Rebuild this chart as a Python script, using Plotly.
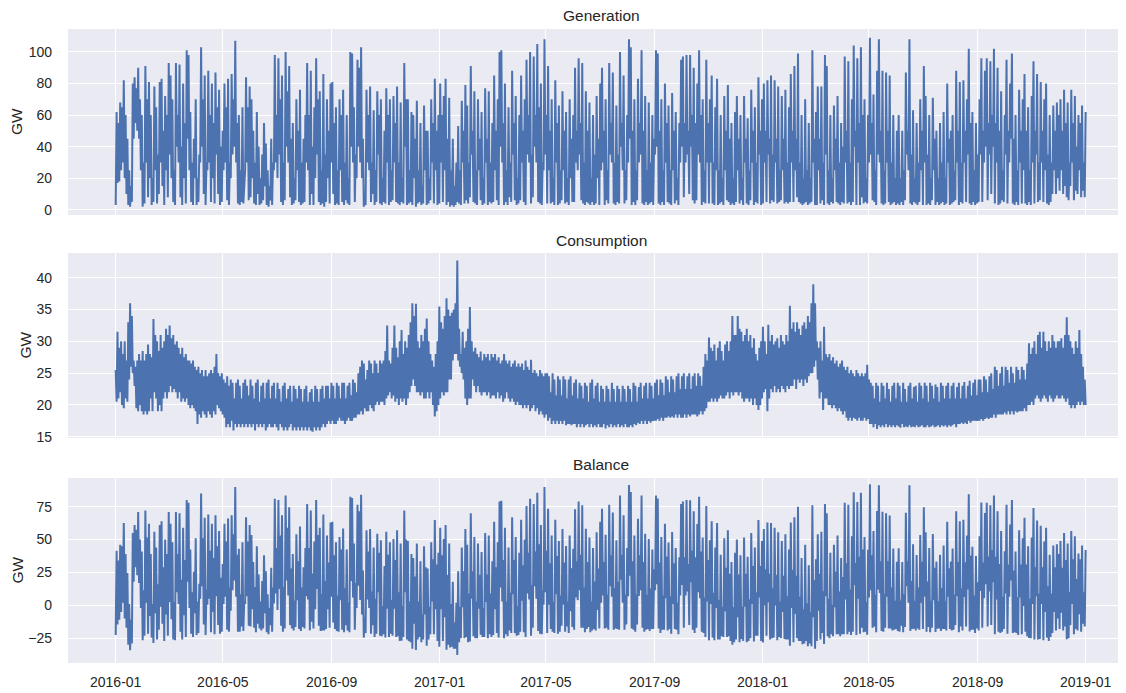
import numpy as np
import pandas as pd
import plotly.graph_objects as go

# ---------------- data (GW): ~daily readings, 30 per month ----------------
start_date = "2016-01-01 00:00"
end_date = "2018-12-31 23:00"

generation = [
    3, 62, 17, 55, 18, 68, 25, 65, 30, 82, 20, 60, 10, 45, 3, 25, 2, 15, 5, 80, 45, 84, 55, 77, 50, 90, 45, 70, 25, 60,        # 2016-01
    2, 30, 4, 91, 30, 70, 8, 81, 20, 60, 3, 20, 5, 78, 25, 65, 4, 35, 10, 81, 30, 83, 15, 50, 3, 72, 25, 60, 8, 93,            # 2016-02
    35, 85, 20, 70, 5, 25, 3, 93, 40, 60, 30, 92, 8, 40, 3, 80, 20, 55, 4, 101, 45, 98, 25, 62, 5, 30, 3, 45, 20, 70,          # 2016-03
    3, 20, 5, 35, 30, 103, 40, 70, 10, 85, 3, 30, 25, 88, 30, 60, 5, 80, 20, 55, 4, 87, 35, 65, 10, 76, 3, 40, 5, 50,          # 2016-04
    25, 80, 30, 65, 6, 83, 3, 30, 20, 86, 35, 70, 40, 107, 30, 55, 4, 60, 3, 25, 5, 65, 4, 20, 25, 84, 30, 65, 6, 78,          # 2016-05
    8, 70, 20, 50, 4, 30, 3, 62, 10, 40, 3, 20, 4, 35, 6, 55, 15, 42, 3, 25, 2, 15, 6, 45, 3, 30, 25, 98, 30, 60,              # 2016-06
    20, 96, 35, 70, 5, 85, 3, 30, 6, 100, 40, 75, 30, 91, 8, 45, 3, 55, 4, 20, 6, 70, 25, 50, 5, 76, 3, 30, 4, 45,             # 2016-07
    5, 60, 30, 93, 25, 60, 3, 88, 10, 40, 3, 65, 20, 96, 35, 70, 5, 75, 3, 25, 4, 86, 2, 35, 5, 70, 20, 50, 4, 80,             # 2016-08
    30, 81, 10, 55, 3, 65, 4, 25, 3, 70, 25, 60, 5, 76, 3, 30, 6, 60, 4, 20, 3, 100, 40, 99, 30, 65, 5, 35, 20, 95,            # 2016-09
    40, 90, 30, 103, 20, 45, 2, 10, 3, 76, 30, 60, 25, 78, 5, 30, 10, 63, 3, 25, 5, 75, 35, 60, 4, 70, 3, 20, 5, 50,           # 2016-10
    4, 77, 30, 60, 3, 70, 5, 25, 6, 72, 30, 55, 5, 78, 4, 30, 3, 68, 5, 20, 4, 93, 40, 70, 3, 70, 4, 25, 5, 62,                # 2016-11
    3, 60, 20, 45, 2, 69, 4, 25, 5, 55, 3, 15, 4, 66, 25, 50, 3, 50, 4, 20, 6, 70, 30, 55, 4, 83, 25, 50, 3, 60,               # 2016-12
    4, 80, 30, 60, 5, 72, 25, 83, 3, 45, 5, 71, 2, 25, 3, 45, 2, 15, 3, 30, 5, 53, 4, 25, 3, 69, 30, 50, 4, 79,                # 2017-01
    6, 66, 4, 30, 8, 91, 35, 50, 5, 75, 4, 25, 3, 70, 25, 45, 6, 62, 3, 20, 4, 77, 30, 45, 3, 75, 5, 30, 4, 55,                # 2017-02
    5, 85, 25, 50, 6, 70, 3, 100, 40, 101, 30, 55, 3, 80, 5, 25, 3, 65, 8, 30, 5, 88, 35, 55, 6, 72, 3, 20, 4, 60,             # 2017-03
    6, 85, 30, 50, 5, 70, 3, 95, 35, 60, 30, 100, 4, 35, 8, 97, 40, 60, 30, 105, 5, 65, 4, 80, 3, 30, 25, 108, 35, 60,         # 2017-04
    4, 91, 25, 50, 4, 70, 5, 20, 3, 82, 30, 55, 3, 66, 4, 25, 6, 75, 25, 50, 4, 62, 5, 20, 3, 70, 20, 45, 5, 60,               # 2017-05
    5, 90, 30, 50, 25, 96, 35, 55, 6, 93, 4, 30, 3, 75, 5, 50, 4, 68, 3, 20, 5, 60, 3, 35, 4, 72, 20, 45, 3, 80,               # 2017-06
    25, 90, 30, 50, 3, 70, 6, 25, 4, 93, 35, 55, 30, 87, 4, 30, 3, 66, 5, 35, 4, 100, 40, 55, 25, 85, 4, 25, 6, 60,            # 2017-07
    30, 108, 45, 103, 3, 50, 5, 70, 3, 25, 6, 83, 30, 55, 35, 101, 4, 50, 3, 72, 5, 25, 3, 68, 4, 30, 5, 60, 3, 45,            # 2017-08
    35, 101, 40, 99, 4, 50, 3, 70, 5, 25, 3, 80, 30, 55, 5, 66, 4, 25, 3, 74, 25, 50, 4, 62, 6, 20, 3, 55, 30, 95,             # 2017-09
    40, 97, 8, 55, 30, 98, 35, 50, 10, 98, 40, 60, 6, 90, 4, 55, 6, 80, 35, 101, 30, 60, 3, 70, 5, 25, 4, 95, 30, 55,          # 2017-10
    4, 70, 30, 85, 4, 30, 3, 65, 25, 83, 3, 25, 4, 60, 5, 20, 3, 72, 25, 50, 6, 79, 5, 45, 3, 55, 4, 20, 3, 62,                # 2017-11
    5, 72, 25, 45, 4, 60, 6, 20, 3, 72, 30, 45, 4, 58, 3, 25, 6, 76, 30, 50, 3, 65, 5, 30, 4, 84, 35, 50, 3, 70,               # 2017-12
    4, 80, 30, 50, 5, 82, 35, 45, 4, 85, 6, 35, 5, 82, 30, 45, 4, 78, 5, 25, 6, 72, 25, 45, 4, 76, 5, 30, 4, 65,               # 2018-01
    5, 86, 30, 50, 5, 91, 25, 45, 8, 99, 5, 30, 4, 60, 3, 20, 4, 70, 5, 25, 3, 55, 4, 20, 5, 101, 30, 45, 3, 62,               # 2018-02
    3, 78, 25, 45, 4, 78, 6, 30, 3, 98, 35, 91, 4, 25, 3, 60, 5, 20, 4, 66, 25, 45, 5, 72, 4, 30, 3, 55, 5, 40,                # 2018-03
    4, 97, 30, 50, 4, 94, 5, 30, 3, 70, 5, 104, 40, 50, 3, 96, 30, 55, 3, 103, 8, 60, 4, 70, 5, 20, 4, 60, 30, 109,            # 2018-04
    35, 55, 6, 73, 5, 25, 3, 88, 35, 108, 30, 50, 4, 88, 3, 25, 4, 87, 30, 50, 5, 85, 3, 30, 4, 60, 5, 20, 3, 50,              # 2018-05
    4, 60, 3, 20, 5, 50, 3, 25, 6, 87, 35, 50, 25, 108, 4, 35, 3, 63, 5, 20, 4, 55, 3, 30, 5, 70, 25, 50, 3, 91,               # 2018-06
    30, 72, 3, 35, 4, 60, 3, 20, 6, 71, 25, 45, 3, 50, 5, 20, 3, 55, 4, 30, 5, 62, 3, 20, 4, 80, 30, 45, 3, 50,                # 2018-07
    4, 60, 5, 25, 6, 88, 30, 50, 3, 81, 5, 30, 4, 82, 30, 50, 5, 70, 35, 102, 4, 55, 3, 62, 5, 25, 3, 55, 4, 35,               # 2018-08
    5, 70, 35, 96, 5, 50, 30, 88, 40, 96, 6, 55, 35, 94, 10, 60, 40, 102, 4, 55, 30, 90, 3, 50, 4, 75, 6, 25, 5, 60,           # 2018-09
    35, 95, 4, 50, 30, 80, 45, 99, 4, 45, 3, 60, 5, 25, 3, 76, 30, 50, 4, 70, 25, 86, 4, 50, 3, 65, 5, 25, 3, 72,              # 2018-10
    30, 94, 4, 50, 35, 86, 5, 30, 6, 81, 30, 50, 5, 70, 25, 80, 4, 35, 3, 60, 5, 30, 10, 66, 25, 50, 10, 68, 20, 60,           # 2018-11
    12, 70, 25, 50, 10, 76, 15, 55, 8, 68, 6, 30, 15, 76, 30, 55, 6, 72, 12, 40, 10, 60, 25, 55, 8, 66, 12, 30, 8, 62,         # 2018-12
]

consumption = [
    25.5, 20.5, 31.5, 21, 29, 22, 30, 20, 28, 19.5, 30, 21, 27, 20.5, 33, 24, 36, 26, 34, 25, 27, 23, 26, 19.5, 27, 19, 28, 20, 27, 19,                  # 2016-01
    28.5, 18.5, 27, 19, 28, 18.5, 29.5, 19, 28, 21, 27.5, 19, 33.5, 22, 31, 21, 30, 19, 28.5, 20, 31, 19, 29, 21, 30, 22, 32, 21, 31, 22,                # 2016-02
    32.5, 23, 30.5, 22, 31, 22.5, 29.5, 22, 30, 21, 29, 22, 28, 20.5, 29, 21, 27.5, 20.5, 28, 21, 27, 20, 27, 19.5, 26.5, 20, 27, 19.5, 26, 19,          # 2016-03
    25.5, 17, 26, 18.5, 25, 18, 25.5, 19, 24.5, 18.5, 25.5, 18, 24.5, 19, 25, 18.5, 25.5, 18, 25, 19, 26, 18.5, 28, 20, 25, 19.5, 24.5, 19, 25, 18.5,    # 2016-04
    24, 18, 23.5, 16.5, 24.5, 17, 23, 16.5, 24, 17.5, 23.5, 16, 21, 17, 23.5, 16.5, 24, 17, 23, 16.5, 21, 17, 23.5, 16.5, 24, 17, 23, 16.5, 21.5, 17,    # 2016-05
    24, 16.5, 23, 17, 21, 16, 23.5, 17, 24, 16.5, 20.5, 17, 23, 16.5, 23.5, 17, 21, 16, 23.5, 16.5, 24, 17, 21, 16.5, 23, 16.5, 23.5, 17, 21, 16.5,      # 2016-06
    23.5, 16, 22.5, 17, 20.5, 16.5, 23, 16, 23.5, 16.5, 21, 16, 22.5, 16.5, 23, 17, 20.5, 16, 23, 16.5, 22.5, 16, 21, 16.5, 23, 16, 22.5, 16.5, 20.5, 16,  # 2016-07
    22.5, 16.5, 23, 16, 20.5, 16.5, 22, 16, 22.5, 15.8, 20.5, 16.5, 23, 16, 22.5, 16.5, 20.5, 16, 22.5, 16.5, 23, 17, 21, 16.5, 23, 17, 23, 17.5, 21, 17,  # 2016-08
    23.5, 17.5, 23, 17, 21, 17, 23.5, 17.5, 23, 18, 21, 17.5, 23.5, 17.5, 23.5, 17, 21, 17.5, 23, 18, 23.5, 17.5, 21.5, 17.5, 24, 18, 23.5, 18, 22, 18.5,  # 2016-09
    25, 18.5, 26, 19, 27, 18.5, 26.5, 19.5, 24, 19, 25.5, 19, 27, 20, 26.5, 19.5, 25, 19, 27, 20, 26.5, 20.5, 25, 20, 27, 20.5, 26.5, 20.5, 27, 20,      # 2016-10
    28.5, 21, 32.5, 21.5, 27, 22, 26.5, 21, 29, 21.5, 32.5, 20.5, 29, 21, 27.5, 20, 30, 21, 31.8, 20.5, 28, 21, 30, 20, 29, 21, 31, 22, 33, 23,          # 2016-11
    36, 24, 34, 23, 35.9, 22, 30, 22, 29, 21.5, 31, 22, 30, 21, 32, 21, 33.6, 22, 30, 21, 28, 22, 27, 20, 26, 18.2, 28, 19, 30, 20,                     # 2016-12
    35.5, 21, 33, 22, 32, 21.5, 34, 22, 36.8, 22, 35, 24, 34, 24, 34.5, 27, 35, 28, 36, 28, 42.7, 27, 32, 26, 28, 25, 31.5, 24, 29, 21,                 # 2017-01
    30, 20, 32, 21, 35.4, 21, 30, 24, 28.4, 23, 29, 22, 28, 23, 27.5, 22, 28.4, 21.5, 27, 22, 28, 22, 27.5, 21.5, 28, 22, 27, 21, 28, 21.5,             # 2017-02
    27.5, 21.5, 28, 21, 27, 22, 27.5, 21, 26.5, 21.5, 27, 20.5, 28, 21, 27, 22, 26.5, 21, 27, 20.5, 26, 21, 26.5, 20.5, 27, 20, 26, 20.5, 26.5, 20,      # 2017-03
    26, 20, 26.5, 19.5, 25.5, 20, 27, 19.5, 26, 20, 25.5, 19, 27.1, 19.5, 25, 20, 25.5, 19, 25, 19.5, 24.5, 18.5, 25.5, 19, 25, 18.5, 24.5, 18, 25, 18.5,  # 2017-04
    25, 17.5, 24.5, 18, 22, 17, 25, 17.5, 24, 17, 21.5, 17.5, 24.5, 17, 24, 17.5, 21.5, 17, 24.5, 17.5, 24, 16.8, 21, 17, 24, 17, 24.5, 16.8, 21.5, 17,  # 2017-05
    23.5, 17, 24, 16.5, 21, 17, 23.5, 16.5, 23, 17, 21, 16.5, 23.5, 16.8, 23, 17, 20.5, 16.5, 23.5, 17, 24, 16.5, 21, 16.8, 23, 16.5, 23.5, 17, 20.5, 16.5,  # 2017-06
    23, 16.5, 22.5, 17, 20.5, 16.3, 23, 16.8, 22.5, 16.5, 20.5, 17, 23.5, 16.5, 22.5, 16.8, 20.5, 16.5, 23, 17, 22.5, 16.5, 20.5, 16.8, 23, 16.5, 22.5, 17, 20.5, 16.5,  # 2017-07
    23, 16.5, 22.5, 16.8, 20.5, 16.5, 23.5, 17, 23, 16.8, 20.5, 17.2, 22.8, 17, 23.5, 17.5, 21, 17, 23, 17.5, 23.5, 17, 21, 17.5, 23.5, 17.2, 23, 17.5, 21, 17.5,  # 2017-08
    23.5, 17.5, 24, 17.8, 21.5, 17.5, 24, 18, 23.5, 17.5, 21.5, 18, 24.5, 18, 24, 18.2, 22, 18, 24.5, 18.2, 24, 18, 22, 18.5, 24.5, 18, 25, 18.5, 22.5, 18,  # 2017-09
    24.5, 18, 25, 18.5, 22.5, 18, 24.5, 18.5, 25, 18.2, 22.5, 18.5, 24.5, 18.5, 25, 18.5, 23, 18.2, 25, 18.5, 24.5, 19, 23, 18.5, 26, 19, 28, 19.5, 27, 20.5,  # 2017-10
    30.6, 20.5, 29, 21, 28.5, 20.5, 29.5, 21, 27, 20.5, 29, 21, 30, 21.5, 28.5, 21, 27, 21, 29.5, 21.5, 30, 22, 28.5, 21, 30, 22, 34, 21.5, 31, 22,      # 2017-11
    31, 22, 34, 21.5, 32, 22, 31.5, 21, 30, 20.5, 31, 21, 32, 21, 30, 20.5, 31, 21, 29, 20, 30.5, 21, 28, 20, 27, 19.2, 29, 20, 30, 21,                # 2017-12
    32.3, 22, 30, 22.5, 28, 19, 32.6, 21, 30, 22.5, 31, 22, 29.5, 23, 30, 22, 30.5, 22.5, 29, 22, 31, 23, 30, 22.5, 29.5, 22, 31, 23, 30, 22.5,         # 2018-01
    35.6, 23, 32, 23, 33, 24, 31.5, 22.5, 33, 24, 32, 23.5, 31, 24, 32.5, 23, 33, 24, 32, 23.5, 34, 24.5, 33, 25, 36, 25, 39, 26, 36, 27,              # 2018-02
    30, 24, 29, 21, 30, 22, 27, 19.2, 32.3, 21, 28, 21, 27.5, 20, 28, 20, 27, 19.5, 27.5, 20, 26.5, 19.5, 27, 19, 26, 19.5, 26.5, 19, 27, 18.5,        # 2018-03
    26, 19, 25.5, 18, 26, 17.5, 25, 18, 25.5, 17.5, 25, 18, 24.5, 17.8, 25.5, 17.5, 25, 18, 24.5, 17.5, 25, 17.5, 24.5, 18, 25, 17.5, 26.3, 17.8, 24, 17,  # 2018-04
    23.5, 17, 23, 16.5, 21, 17, 23.5, 16.2, 23, 16.8, 20.5, 16.5, 23.5, 16.8, 23, 16.5, 21, 17, 23.5, 16.5, 22.5, 16.8, 20.5, 16.5, 23, 16.8, 23.5, 16.5, 21, 16.8,  # 2018-05
    23.5, 16.6, 23, 16.4, 20.5, 17, 23.5, 16.5, 22.5, 16.6, 20.5, 16.5, 23, 16.8, 23.5, 16.5, 21, 16.6, 22.8, 16.5, 23, 16.8, 20.5, 16.5, 23.5, 16.6, 23, 16.8, 21, 16.5,  # 2018-06
    23.5, 16.5, 23, 16.8, 20.5, 16.5, 23.5, 16.6, 23, 16.8, 21, 16.5, 23.2, 16.6, 22.8, 16.8, 20.5, 16.5, 23.5, 16.8, 23, 16.6, 21, 16.8, 23, 16.5, 23.5, 16.8, 21, 16.6,  # 2018-07
    23, 16.8, 23.5, 17, 21, 16.5, 22.8, 17, 23.5, 17, 21, 17.2, 23, 17, 23.6, 17.2, 21, 17, 23, 17.5, 23.8, 17.2, 21.5, 17.5, 23.5, 17.5, 24, 17.5, 21.5, 17.5,  # 2018-08
    24, 17.5, 24, 17.8, 22, 17.5, 24.5, 17.8, 24, 18, 22, 17.8, 24.5, 18, 25, 18, 22.5, 18.5, 26, 18, 25.5, 18.5, 23, 18.5, 25, 18.5, 26, 18.5, 23, 18.8,  # 2018-09
    26, 18.5, 25.5, 19, 23.5, 18.5, 26, 19, 25, 18.5, 23.5, 19, 26, 18.8, 25.5, 19, 24, 19, 26, 19, 25.5, 19.5, 24, 19, 26.5, 20, 29.7, 20, 28, 20.5,  # 2018-10
    29, 20, 30, 21, 28, 21.5, 31, 21, 31.5, 20.5, 29, 21, 31.5, 21.5, 30, 21, 28.5, 20.5, 30, 21.5, 29, 21, 31, 20.5, 30, 21, 29, 21.5, 30, 21,        # 2018-11
    30, 21, 30.5, 21.5, 29, 21, 31, 20.5, 33.8, 21, 31, 20, 30, 19.5, 29, 20, 28, 19.5, 30, 20, 29, 20.5, 31.8, 20, 28, 20.5, 26, 20, 24, 20,          # 2018-12
]

titles = ["Generation", "Consumption", "Balance"]
tick_dates = ["2016-01-01", "2016-05-01", "2016-09-01", "2017-01-01", "2017-05-01",
              "2017-09-01", "2018-01-01", "2018-05-01", "2018-09-01", "2019-01-01"]
tick_labels = ["2016-01", "2016-05", "2016-09", "2017-01", "2017-05",
               "2017-09", "2018-01", "2018-05", "2018-09", "2019-01"]

# ---------------- derived ----------------
assert len(generation) == len(consumption), (len(generation), len(consumption))
n = len(generation)
gen = np.array(generation, dtype=float)
con = np.array(consumption, dtype=float)
balance = gen - con
t0 = pd.Timestamp(start_date).value
t1 = pd.Timestamp(end_date).value
times = pd.to_datetime(np.linspace(t0, t1, n).astype("int64"))

# ---------------- styling ----------------
W, H = 1126, 693
OFF = 8                      # page offset of the plot inside the html body
LEFT = 68                    # left edge of the axes (page px)
AXW = W - (LEFT - OFF)       # axes width in px (extends past the window edge)
FONT = "Arial, 'Liberation Sans', Helvetica, sans-serif"
TXT = "#262626"
BG = "#EAEAF2"
LINE = "#4C72B0"

def py(p):
    return 1 - (p - OFF) / H

def px(p):
    return (p - LEFT) / AXW

base = pd.Timestamp("2016-01-01")
x_range = [str(base - pd.Timedelta(days=53.9)), str(base + pd.Timedelta(days=1150.6))]

panels = [
    # (series, y-range, ticks, top_px, bottom_px, title_px, ylabel_x_px)
    (gen, [-3.3, 114.5], [0, 20, 40, 60, 80, 100], 29, 215, 16, 17),
    (con, [14.8, 43.9], [15, 20, 25, 30, 35, 40], 253, 438, 240, 25),
    (balance, [-43.8, 96.8], [-25, 0, 25, 50, 75], 478, 663, 464, 17),
]

fig = go.Figure()
layout = dict(
    width=W, height=H,
    margin=dict(l=LEFT - OFF, r=0, t=0, b=0, pad=0),
    paper_bgcolor="white",
    plot_bgcolor=BG,
    showlegend=False,
    font=dict(family=FONT, size=14, color=TXT),
    annotations=[],
)

for i, (series, yr, yt, top, bot, tpx, ylx) in enumerate(panels):
    k = "" if i == 0 else str(i + 1)
    fig.add_trace(go.Scatter(
        x=times, y=series, mode="lines",
        line=dict(color=LINE, width=2),
        xaxis="x" + k, yaxis="y" + k, hoverinfo="skip",
    ))
    layout["xaxis" + k] = dict(
        domain=[0, 1], anchor="y" + k, range=x_range, type="date",
        tickvals=tick_dates, ticktext=tick_labels,
        showticklabels=(i == 2),
        showgrid=True, gridcolor="white", gridwidth=1.3,
        zeroline=False, showline=False, ticks="",
        tickfont=dict(family=FONT, size=14, color=TXT),
        ticklabelstandoff=9,
        automargin=False,
        **({} if i == 0 else {"matches": "x"}),
    )
    layout["yaxis" + k] = dict(
        domain=[py(bot), py(top)], anchor="x" + k, range=yr,
        tickvals=yt, showgrid=True, gridcolor="white", gridwidth=1.3,
        zeroline=False, showline=False, ticks="",
        tickfont=dict(family=FONT, size=14, color=TXT),
        ticklabelstandoff=15,
        automargin=False,
    )
    layout["annotations"].append(dict(
        text=titles[i], xref="paper", yref="paper",
        x=px(601), y=py(tpx), xanchor="center", yanchor="middle",
        showarrow=False, font=dict(family=FONT, size=15.5, color=TXT),
    ))
    layout["annotations"].append(dict(
        text="GW", xref="paper", yref="paper", textangle=-90,
        x=px(ylx), y=py((top + bot) / 2), xanchor="center", yanchor="middle",
        showarrow=False, font=dict(family=FONT, size=15.5, color=TXT),
    ))

fig.update_layout(**layout)
fig.write_html("out.html")
